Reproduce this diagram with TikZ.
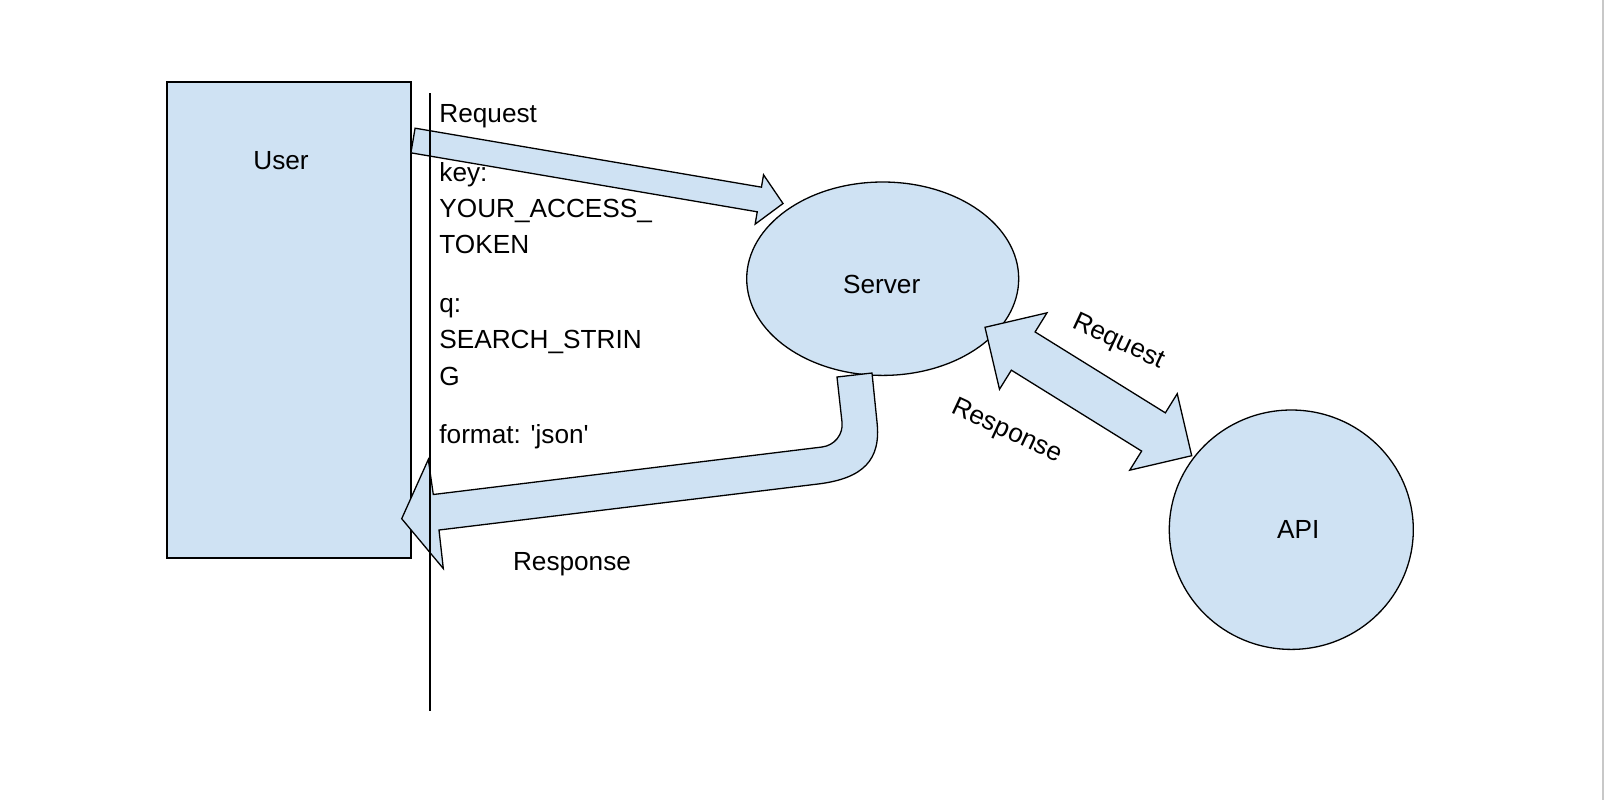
\documentclass[tikz,border=0pt]{standalone}
\usepackage{fontspec}
\setmainfont{Liberation Sans}
\usepackage{tikz}
\usetikzlibrary{calc,shapes.geometric}
\definecolor{shapeBlue}{HTML}{CFE2F3}
\definecolor{frameGrey}{RGB}{200,200,200}

\begin{document}
\begin{tikzpicture}[
  x=0.5pt,y=-0.5pt,
  font=\fontsize{13.1}{18.15}\selectfont,
  box/.style={rectangle,draw=black,fill=shapeBlue,line width=0.65pt,inner sep=0pt},
  ell/.style={ellipse,draw=black,fill=shapeBlue,line width=0.65pt,inner sep=0pt},
  blk/.style={draw=black,fill=shapeBlue,line width=0.65pt,line join=miter},
  lbl/.style={inner sep=0pt}
]
  \useasboundingbox[fill=white] (0,0) rectangle (1606,800);
  \draw[frameGrey,line width=1.15pt] (1603,0) -- (1603,800);

  \node[box,minimum width=122pt,minimum height=238pt] (user) at (289,320) {};
  \node[ell,minimum width=136pt,minimum height=96.7pt] (server) at (882.7,278.7) {};
  \node[ell,minimum width=122pt,minimum height=119.7pt] (api) at (1291.3,529.7) {};

  % request: user -> server
  \coordinate (reqA) at (413,140.5);
  \coordinate (reqB) at (783,203.5);
  \coordinate (reqH) at ($(reqB)!12pt!(reqA)$);
  \draw[blk] ($(reqA)!6.25pt!90:(reqB)$) -- ($(reqH)!6.25pt!90:(reqB)$)
    -- ($(reqH)!12.5pt!90:(reqB)$) -- (reqB) -- ($(reqH)!12.5pt!-90:(reqB)$)
    -- ($(reqH)!6.25pt!-90:(reqB)$) -- ($(reqA)!6.25pt!-90:(reqB)$) -- cycle;

  % server <-> api
  \coordinate (apiA) at (985,327.3);
  \coordinate (apiB) at (1191.7,455.7);
  \coordinate (apiHa) at ($(apiA)!22.5pt!(apiB)$);
  \coordinate (apiHb) at ($(apiB)!22.5pt!(apiA)$);
  \draw[blk] (apiA) -- ($(apiHa)!22.5pt!90:(apiB)$) -- ($(apiHa)!11.25pt!90:(apiB)$)
    -- ($(apiHb)!11.25pt!90:(apiB)$) -- ($(apiHb)!22.5pt!90:(apiB)$) -- (apiB)
    -- ($(apiHb)!22.5pt!-90:(apiB)$) -- ($(apiHb)!11.25pt!-90:(apiB)$)
    -- ($(apiHa)!11.25pt!-90:(apiB)$) -- ($(apiHa)!22.5pt!-90:(apiB)$) -- cycle;

  % response: server -> user
  \coordinate (resB) at (401.7,518.7);
  \draw[blk] (837,377) -- (842,422) .. controls (843.5,434.3) and (834.5,445.5) .. (822,447)
    -- (433.3,494.5) -- (428.3,459.5) -- (resB) -- (443.3,568.5) -- (439,530)
    -- (818,484) .. controls (863.5,478.4) and (881.2,459.8) .. (877,422)
    -- (872,373) -- cycle;

  \node[lbl] (usertxt) at (281,161) {User};
  \node[lbl] (servertxt) at (881.7,284.5) {Server};
  \node[lbl] (apitxt) at (1298.3,529.2) {API};

  \node[lbl,anchor=north west,align=left] (params) at (439,104)
    {Request\\[11.2pt]key:\\YOUR\_ACCESS\_\\TOKEN\\[11.2pt]q:\\SEARCH\_STRIN\\G\\[11.2pt]format: \textquotesingle json\textquotesingle};

  \node[lbl,rotate=-25] (reqlbl) at (1118.3,342.3) {Request};
  \node[lbl,rotate=-25] (reslbl) at (1006.7,431.7) {Response};
  \node[lbl] (resplbl) at (572,564.5) {Response};

  \coordinate (divtop) at (430,93);
  \coordinate (divbot) at (430,711);
  \draw[line width=0.6pt] (divtop) -- (divbot);
\end{tikzpicture}
\end{document}
